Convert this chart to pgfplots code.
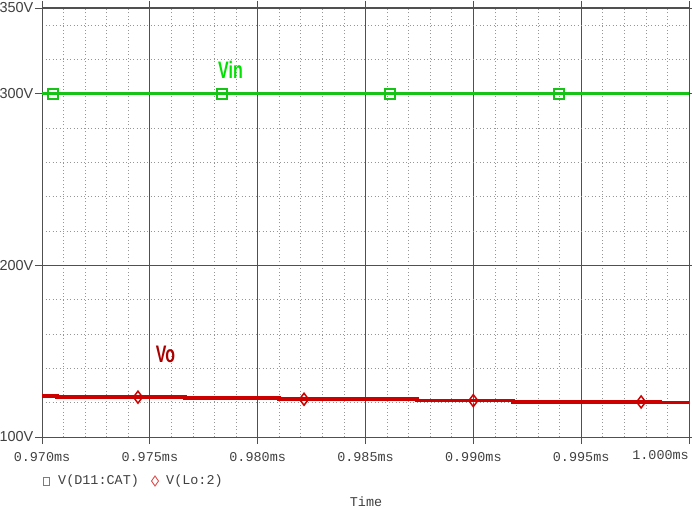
\documentclass[border=0pt]{standalone}
\usepackage{fontspec}
\setmainfont{Liberation Sans}
\newfontfamily\monofont{Liberation Mono}
\usepackage{graphicx}
\usepackage{pgfplots}
\pgfplotsset{compat=1.18}
\definecolor{vingreen}{RGB}{24,195,24}
\definecolor{vinlabel}{RGB}{0,225,0}
\definecolor{vored}{RGB}{205,0,0}
\definecolor{volabel}{RGB}{170,0,0}
\definecolor{gridc}{RGB}{80,80,80}
\definecolor{minorc}{RGB}{150,150,150}
\begin{document}
\begin{tikzpicture}
\useasboundingbox (-42bp,-73bp) rectangle (650bp,437bp);
\begin{axis}[
  at={(0,0)}, anchor=south west,
  scale only axis, width=647bp, height=429bp,
  xmin=0.970, xmax=1.000, ymin=100, ymax=350,
  xtick={0.970,0.975,0.980,0.985,0.990,0.995,1.000},
  xticklabels={0.970ms,0.975ms,0.980ms,0.985ms,0.990ms,0.995ms,},
  ytick={100,200,300,350},
  yticklabels={100V,200V,300V,350V},
  minor xtick={0.971,0.972,0.973,0.974,0.976,0.977,0.978,0.979,0.981,0.982,0.983,0.984,0.986,0.987,0.988,0.989,0.991,0.992,0.993,0.994,0.996,0.997,0.998,0.999},
  minor ytick={120,140,160,180,220,240,260,280,320,340},
  grid=both,
  major grid style={gridc, line width=0.8bp},
  minor grid style={minorc, dash pattern=on 1bp off 2.5bp, line width=0.7bp},
  axis line style={gridc, line width=1bp},
  tick style={gridc, line width=0.8bp},
  tick align=outside, major tick length=7bp, minor tick length=0bp,
  xticklabel style={font=\monofont\fontsize{13.5}{14}\selectfont, text=black!75, yshift=-5bp},
  yticklabel style={font=\fontsize{14.5}{15}\selectfont, text=black!75, inner sep=1.5bp},
]
\addplot[vingreen, line width=3bp] coordinates {(0.970,300) (1.000,300)};
\addplot[vingreen, only marks, mark=square, mark size=5bp, mark options={line width=1.6bp, fill=none}] coordinates {(0.97051,300) (0.97835,300) (0.98614,300) (0.99398,300)};
\addplot[vored, line width=3.5bp, const plot] coordinates {(0.970,124.0) (0.97070,123.2) (0.97663,122.6) (0.98099,122.0) (0.98739,121.2) (0.99185,120.4) (0.99866,120.0) (1.000,120.0)};
\addplot[vored, only marks, mark=diamond, mark size=6bp, mark options={line width=1.5bp, fill=none}] coordinates {(0.97445,123.2) (0.98215,122.0) (0.9900,121.2) (0.99778,120.4)};
\node[text=vinlabel, font=\fontsize{16}{17}\selectfont\bfseries] at (axis cs:0.97874,314) {\scalebox{1}[1.5]{Vin}};
\node[text=volabel, font=\fontsize{16}{17}\selectfont\bfseries] at (axis cs:0.97573,148.4) {\scalebox{1}[1.5]{Vo}};
\end{axis}
\node[anchor=east, font=\monofont\fontsize{13.5}{14}\selectfont, text=black!75, inner sep=0] at (647bp,-18.5bp) {1.000ms};
\draw[vingreen, line width=1bp] (1.5bp,-48bp) rectangle (7.5bp,-40bp);
\node[anchor=west, font=\monofont\fontsize{13.5}{14}\selectfont, text=black!75, inner sep=0] at (16bp,-44bp) {V(D11:CAT)};
\draw[vored!70, line width=0.9bp] (113bp,-49bp) -- (116.5bp,-44bp) -- (113bp,-39bp) -- (109.5bp,-44bp) -- cycle;
\node[anchor=west, font=\monofont\fontsize{13.5}{14}\selectfont, text=black!75, inner sep=0] at (124bp,-44bp) {V(Lo:2)};
\node[font=\monofont\fontsize{13.5}{14}\selectfont, text=black!75, inner sep=0] at (324bp,-65bp) {Time};
\end{tikzpicture}
\end{document}
